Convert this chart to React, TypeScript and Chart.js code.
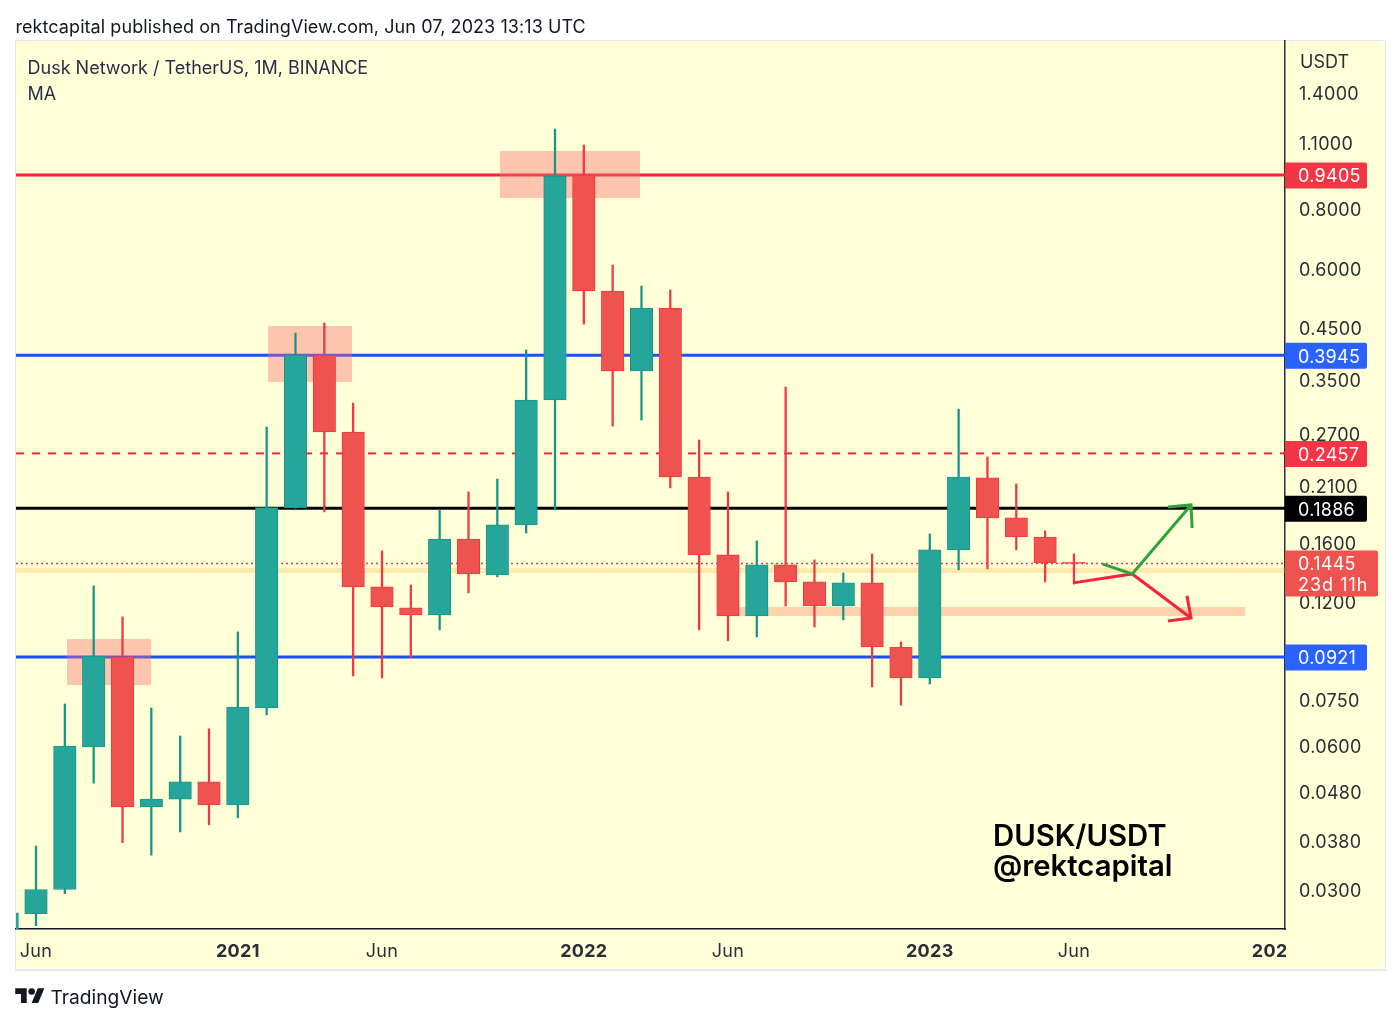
import React, { useEffect, useRef } from "react";
import { Chart, registerables } from "chart.js";

Chart.register(...registerables);

// Month index: Jun 2020 = 0
const months = [-1, 0, 1, 2, 3, 4, 5, 6, 7, 8, 9, 10, 11, 12, 13, 14, 15, 16, 17, 18, 19, 20, 21, 22, 23, 24, 25, 26, 27, 28, 29, 30, 31, 32, 33, 34, 35, 36];
const opens = [0.0245, 0.0267, 0.03, 0.0597, 0.0921, 0.0447, 0.0464, 0.0504, 0.0451, 0.072, 0.189, 0.3945, 0.2724, 0.1291, 0.1167, 0.1127, 0.1626, 0.1367, 0.174, 0.3178, 0.9405, 0.5375, 0.3655, 0.4952, 0.2193, 0.1506, 0.1122, 0.1435, 0.1322, 0.1177, 0.1316, 0.0966, 0.0832, 0.1543, 0.2183, 0.18, 0.1642, 0.145];
const closes = [0.0268, 0.03, 0.0599, 0.0925, 0.0447, 0.0464, 0.0504, 0.0451, 0.0723, 0.1892, 0.3945, 0.2724, 0.1291, 0.1172, 0.1127, 0.1626, 0.1374, 0.174, 0.3178, 0.936, 0.5375, 0.3655, 0.4952, 0.2193, 0.1506, 0.1122, 0.1435, 0.1322, 0.1177, 0.1316, 0.0966, 0.0832, 0.1543, 0.2193, 0.18, 0.1642, 0.1449, 0.1445];
const highs = [0.0268, 0.037, 0.0734, 0.1297, 0.1117, 0.072, 0.0629, 0.0651, 0.1039, 0.279, 0.439, 0.4607, 0.3132, 0.1535, 0.1303, 0.1871, 0.204, 0.2172, 0.4045, 1.174, 1.087, 0.6093, 0.5506, 0.5401, 0.2621, 0.204, 0.1611, 0.3384, 0.147, 0.138, 0.1513, 0.099, 0.1666, 0.3043, 0.2415, 0.212, 0.1691, 0.1513];
const lows = [0.024, 0.0252, 0.0294, 0.0501, 0.0376, 0.0354, 0.0396, 0.041, 0.0424, 0.0696, 0.1886, 0.1853, 0.084, 0.0832, 0.0917, 0.1049, 0.1254, 0.1354, 0.1674, 0.1871, 0.4585, 0.2803, 0.2886, 0.208, 0.1049, 0.0995, 0.1014, 0.1177, 0.1064, 0.1101, 0.0797, 0.073, 0.0808, 0.1401, 0.1408, 0.1543, 0.1322, 0.1309];

const priceTicks = [1.4, 1.1, 0.8, 0.6, 0.45, 0.35, 0.27, 0.21, 0.16, 0.12, 0.09, 0.075, 0.06, 0.048, 0.038, 0.03];
const timeTickValues = [0, 7, 12, 19, 24, 31, 36, 43];
const timeTickLabels = ["Jun", "2021", "Jun", "2022", "Jun", "2023", "Jun", "2024"];
const yearTickValues = [7, 19, 31, 43];

const xMin = -0.694;
const xMax = 43.32;
const yMin = 0.0248;
const yMax = 1.7946;

const levelRedTop = 0.9405;
const levelBlueUpper = 0.3945;
const levelRedDashed = 0.2457;
const levelBlack = 0.1886;
const levelBlueLower = 0.0921;
const lastPrice = 0.1445;

// Zones: [left month, right month, upper price, lower price]
const zoneA = [1.075, 3.99, 0.1004, 0.0804];
const zoneB = [8.05, 10.96, 0.4541, 0.3466];
const zoneC = [16.09, 20.95, 1.056, 0.8418];
const zoneD = [24.4, 41.94, 0.1172, 0.1122];
const zoneE = [xMin, xMax, 0.1414, 0.138];

const greenPath = [{ x: 36.98, y: 0.1442 }, { x: 38.02, y: 0.1374 }, { x: 40.06, y: 0.1916 }];
const greenHead = [{ x: 39.26, y: 0.1898 }, { x: 40.06, y: 0.1916 }, { x: 40.1, y: 0.1715 }];
const redPath = [{ x: 35.97, y: 0.1316 }, { x: 38.02, y: 0.1374 }, { x: 40.06, y: 0.1111 }];
const redHead = [{ x: 39.92, y: 0.1236 }, { x: 40.06, y: 0.1111 }, { x: 39.26, y: 0.1095 }];

const GREEN = "#26A69A";
const RED = "#EF5350";
const RED_EDGE = "#F23645";
const GREEN_EDGE = "#17948A";
const YELLOW = "#FFFFD8";
const FONT = "Inter, 'Noto Sans', sans-serif";

const box = (z: number[]) => [
  { x: z[0], y: z[2] },
  { x: z[1], y: z[2] },
  { x: z[1], y: z[3] },
  { x: z[0], y: z[3] },
  { x: z[0], y: z[2] },
];
const zoneSet = (z: number[], color: string) => ({
  type: "line",
  data: box(z),
  fill: "shape",
  backgroundColor: color,
  borderWidth: 0,
  pointRadius: 0,
  tension: 0,
  order: 5,
});
const level = (v: number, color: string, width: number, dash: number[] = []) => ({
  type: "line",
  data: [{ x: xMin, y: v }, { x: xMax, y: v }],
  borderColor: color,
  borderWidth: width,
  borderDash: dash,
  pointRadius: 0,
  fill: false,
  order: 6,
});
const stroke = (pts: { x: number; y: number }[], color: string) => ({
  type: "line",
  data: pts,
  borderColor: color,
  borderWidth: 3,
  pointRadius: 0,
  fill: false,
  tension: 0,
  order: 0,
});

const isUp = months.map((_, i) => closes[i] >= opens[i]);

const tags = [
  { v: levelRedTop, color: "#F23645" },
  { v: levelBlueUpper, color: "#2962FF" },
  { v: levelRedDashed, color: "#F23645" },
  { v: levelBlack, color: "#000000" },
  { v: levelBlueLower, color: "#2962FF" },
];

const framePlugin = {
  id: "frame",
  beforeDraw(chart: any) {
    const { ctx } = chart;
    ctx.save();
    ctx.fillStyle = "#E6E8F0";
    ctx.fillRect(15, 40, 1371, 931);
    ctx.fillStyle = YELLOW;
    ctx.fillRect(16, 41, 1369, 928);
    ctx.restore();
    ctx.letterSpacing = "0.3px";
  },
  beforeDatasetsDraw(chart: any) {
    // the price axis panel hides the end of the last time label
    const { ctx, chartArea } = chart;
    ctx.save();
    ctx.fillStyle = YELLOW;
    ctx.fillRect(chartArea.right + 1, chartArea.bottom + 1, 99, 39);
    ctx.restore();
  },
  afterDraw(chart: any) {
    const { ctx, scales } = chart;
    const y = scales.y;
    const left = chart.chartArea.right;
    ctx.save();
    ctx.textBaseline = "middle";
    ctx.textAlign = "left";
    for (const t of tags) {
      const py = y.getPixelForValue(t.v);
      ctx.fillStyle = t.color;
      ctx.beginPath();
      ctx.roundRect(left, py - 12.5, 82, 26, [0, 2, 2, 0]);
      ctx.fill();
      ctx.fillStyle = "#FFFFFF";
      ctx.font = `18px ${FONT}`;
      ctx.fillText(t.v.toFixed(4), left + 13, py + 2);
    }
    const py = y.getPixelForValue(lastPrice);
    ctx.fillStyle = "#EF5350";
    ctx.beginPath();
    ctx.roundRect(left, py - 13, 93, 46, [0, 2, 2, 0]);
    ctx.fill();
    ctx.fillStyle = "#FFFFFF";
    ctx.font = `18px ${FONT}`;
    ctx.fillText(lastPrice.toFixed(4), left + 13, py + 1);
    ctx.letterSpacing = "1px";
    ctx.fillText("23d 11h", left + 13, py + 22);
    ctx.restore();
  },
};

const textStyle = (x: number, y: number, size: number, color: string, weight = 400): React.CSSProperties => ({
  position: "absolute",
  left: x,
  top: y,
  fontFamily: FONT,
  fontSize: size,
  fontWeight: weight,
  color,
  lineHeight: "24px",
  whiteSpace: "nowrap",
});

export default function App() {
  const ref = useRef<HTMLCanvasElement>(null);
  useEffect(() => {
    const chart = new Chart(ref.current as HTMLCanvasElement, {
      type: "bar",
      data: {
        datasets: [
          level(levelRedTop, "#F7233B", 3),
          level(levelBlueUpper, "#1A50F5", 3),
          level(levelRedDashed, "#F7233B", 2, [8, 8]),
          level(levelBlack, "#000000", 3),
          level(levelBlueLower, "#1A50F5", 3),
          level(lastPrice, "#F23645", 1.5, [2, 3]),
          zoneSet(zoneA, "rgba(250,110,110,0.4)"),
          zoneSet(zoneB, "rgba(250,110,110,0.4)"),
          zoneSet(zoneC, "rgba(250,110,110,0.4)"),
          zoneSet(zoneD, "rgba(245,110,70,0.3)"),
          zoneSet(zoneE, "rgba(255,175,60,0.28)"),
          {
            type: "bar",
            data: months.map((m, i) => ({ x: m, y: [lows[i], highs[i]] })),
            backgroundColor: isUp.map((u) => (u ? GREEN_EDGE : RED_EDGE)),
            barThickness: 1.6,
            grouped: false,
            order: 3,
          },
          {
            type: "bar",
            data: months.map((m, i) => ({ x: m, y: [opens[i], closes[i]] })),
            backgroundColor: isUp.map((u) => (u ? GREEN : RED)),
            borderColor: isUp.map((u) => (u ? GREEN_EDGE : RED_EDGE)),
            borderWidth: 1,
            borderSkipped: false,
            barThickness: 22.5,
            minBarLength: 1.5,
            grouped: false,
            order: 2,
          },
          stroke(greenPath, "#2FA33C"),
          stroke(greenHead, "#2FA33C"),
          stroke(redPath, "#F7233B"),
          stroke(redHead, "#F7233B"),
        ] as any,
      },
      options: {
        animation: false,
        responsive: false,
        maintainAspectRatio: false,
        layout: { autoPadding: false, padding: { left: 16, right: 15, top: 41, bottom: 54 } },
        plugins: { legend: { display: false }, tooltip: { enabled: false } },
        scales: {
          x: {
            type: "linear",
            min: xMin,
            max: xMax,
            offset: false,
            grid: { display: false, drawTicks: false },
            border: { display: true, color: "#131722", width: 1.5 },
            afterFit: (s: any) => {
              s.height = 40;
            },
            afterBuildTicks: (s: any) => {
              s.ticks = timeTickValues.map((value) => ({ value }));
            },
            ticks: {
              autoSkip: false,
              maxRotation: 0,
              padding: 12,
              color: "#2A2E39",
              font: (c: any) => ({
                family: FONT,
                size: 18,
                weight: yearTickValues.includes(c.tick?.value) ? 700 : 400,
              }),
              callback: (v: any) => timeTickLabels[timeTickValues.indexOf(v)] ?? "",
            },
          },
          y: {
            type: "logarithmic",
            position: "right",
            min: yMin,
            max: yMax,
            grid: { display: false, drawTicks: false },
            border: { display: true, color: "#2A2E39", width: 1.5 },
            afterFit: (s: any) => {
              s.width = 100;
            },
            afterBuildTicks: (s: any) => {
              s.ticks = priceTicks.map((value) => ({ value }));
            },
            ticks: {
              autoSkip: false,
              padding: 14,
              labelOffset: 2,
              color: "#2A2E39",
              z: 2,
              font: { family: FONT, size: 18 },
              callback: (v: any) => Number(v).toFixed(4),
            },
          },
        },
      },
      plugins: [framePlugin],
    } as any);
    return () => chart.destroy();
  }, []);

  return (
    <div style={{ position: "absolute", left: 0, top: 0, width: 1400, height: 1023, background: "#fff", overflow: "hidden" }}>
      <canvas ref={ref} width={1400} height={1023} style={{ position: "absolute", left: 0, top: 0, width: 1400, height: 1023 }} />
      <div style={{ ...textStyle(15.5, 15, 18, "#131722"), letterSpacing: 0.07 }}>rektcapital published on TradingView.com, Jun 07, 2023 13:13 UTC</div>
      <div style={textStyle(27.5, 56, 18, "#2A2E49")}>Dusk Network / TetherUS, 1M, BINANCE</div>
      <div style={textStyle(27.5, 82, 18, "#2A2E49")}>MA</div>
      <div style={textStyle(1300, 50, 18, "#2A2E39")}>USDT</div>
      <div style={textStyle(993, 824, 29.3, "#000000", 600)}>DUSK/USDT</div>
      <div style={textStyle(993, 854, 29.3, "#000000", 600)}>@rektcapital</div>
      <svg style={{ position: "absolute", left: 15, top: 985 }} width="30" height="23" viewBox="0 0 36 28">
        <path d="M14 22H7V11H0V4h14v18zM28 22h-8l7.5-18h8L28 22z" fill="#131722" />
        <circle cx="20" cy="8" r="4" fill="#131722" />
      </svg>
      <div style={textStyle(50.5, 984.5, 19.2, "#131722")}>TradingView</div>
    </div>
  );
}
